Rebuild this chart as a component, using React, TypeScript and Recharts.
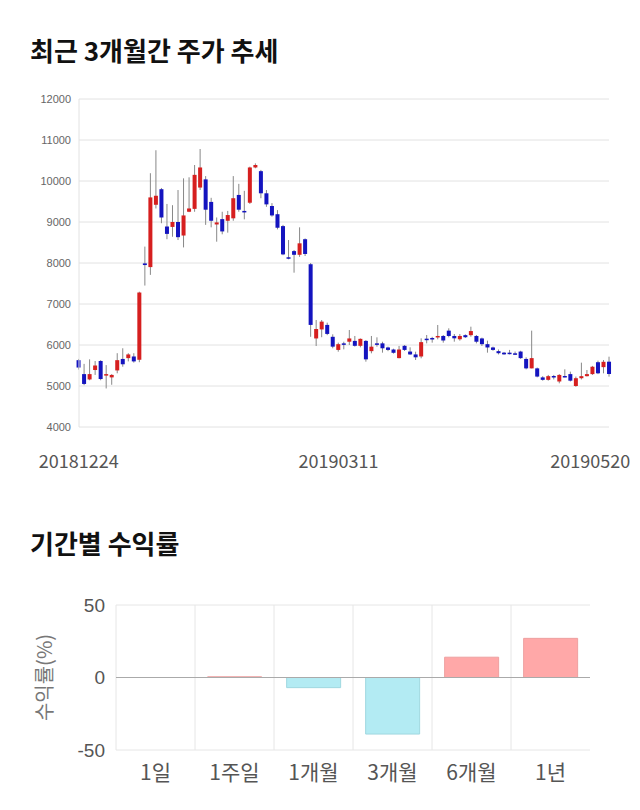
import React from 'react';
import {
  ComposedChart,
  BarChart,
  Bar,
  Cell,
  XAxis,
  YAxis,
  CartesianGrid,
  ReferenceLine,
} from 'recharts';

// candle values, one entry per trading day (20181224 ~ 20190520)
const opens = [
  5630, 5290, 5160, 5390, 5610, 5260, 5210, 5380, 5660, 5680,
  5720, 5640, 7990, 7900, 9420, 9800, 8890, 8880, 9000, 8670,
  9250, 9320, 9840, 10040, 9490, 8940, 9070, 9030, 9090, 9660,
  9270, 9470, 10330, 10240, 9700, 9390, 9190, 8900, 8140, 8290,
  8200, 8580, 7970, 6160, 6380, 6490, 6200, 5880, 6040, 6080,
  6100, 5980, 6100, 5850, 6040, 6040, 5940, 5890, 5680, 5980,
  5840, 5770, 5720, 6154, 6171, 6187, 6220, 6350, 6220, 6140,
  6240, 6240, 6220, 6160, 6020, 5940, 5850, 5813, 5813, 5797,
  5840, 5660, 5430, 5430, 5210, 5150, 5244, 5110, 5244, 5290,
  5000, 5190, 5240, 5290, 5580, 5460, 5593,
];
const highs = [
  5660, 5540, 5650, 5610, 5630, 5510, 5290, 5800, 5920, 5800,
  5800, 7300, 8400, 10190, 10750, 9830, 9440, 9410, 9780, 10065,
  10090, 10390, 10780, 10120, 9590, 9110, 9250, 9270, 10120, 9930,
  9760, 10350, 10430, 10270, 9780, 9460, 9290, 8930, 8560, 8317,
  8870, 8600, 8000, 6610, 6610, 6545, 6260, 6057, 6080, 6366,
  6220, 6160, 6120, 6220, 6187, 6080, 5960, 5910, 5976, 6000,
  5943, 5837, 6163, 6244, 6200, 6488, 6244, 6407, 6268, 6268,
  6260, 6447, 6244, 6180, 6106, 5960, 5890, 5830, 5880, 5840,
  5860, 5700, 6350, 5450, 5240, 5270, 5270, 5290, 5407, 5350,
  5230, 5569, 5390, 5490, 5618, 5634, 5715,
];
const lows = [
  5400, 5020, 5140, 5270, 5140, 4940, 5030, 5310, 5470, 5600,
  5570, 5580, 7450, 7710, 9330, 8970, 8580, 8640, 8560, 8380,
  9240, 9250, 9780, 8930, 8870, 8520, 8700, 8740, 9030, 9250,
  9065, 9440, 10310, 9580, 9370, 9130, 8820, 8190, 8090, 7764,
  8150, 8170, 6200, 5975, 6190, 6240, 5920, 5837, 5894, 6000,
  5960, 5943, 5593, 5797, 5959, 5813, 5850, 5790, 5675, 5854,
  5760, 5634, 5675, 6040, 6057, 6138, 6057, 6187, 6081, 6106,
  6170, 6203, 6040, 5976, 5813, 5860, 5770, 5760, 5770, 5760,
  5660, 5406, 5430, 5211, 5130, 5130, 5160, 5065, 5210, 5110,
  4980, 5160, 5230, 5270, 5290, 5309, 5228,
];
const closes = [
  5450, 5050, 5290, 5500, 5170, 5290, 5270, 5630, 5530, 5770,
  5600, 7280, 7950, 9600, 9640, 9110, 8710, 9000, 8630, 9160,
  9330, 10150, 10330, 9300, 9030, 8990, 8770, 9170, 9580, 9300,
  9240, 10330, 10390, 9700, 9430, 9160, 8860, 8210, 8120, 8200,
  8480, 8220, 6490, 6390, 6570, 6270, 5960, 6020, 6010, 6160,
  5980, 6150, 5650, 5960, 6016, 5920, 5880, 5810, 5890, 5880,
  5770, 5700, 6070, 6122, 6146, 6220, 6110, 6220, 6163, 6220,
  6190, 6340, 6080, 6020, 5940, 5880, 5800, 5772, 5790, 5772,
  5680, 5430, 5680, 5230, 5150, 5240, 5211, 5270, 5228, 5130,
  5190, 5240, 5290, 5470, 5310, 5590, 5293,
];
const priceTicks = [4000, 5000, 6000, 7000, 8000, 9000, 10000, 11000, 12000];
const dateTickIndex = [0, 47, 96];
const dateTickLabels = ['20181224', '20190311', '20190520'];

const periods = ['1일', '1주일', '1개월', '3개월', '6개월', '1년'];
const returns = [0, 0.5, -7, -39, 14, 27];
const returnTicks = [-50, 0, 50];

const UP = '#d61f1f';
const DOWN = '#1414bf';

const candleData = opens.map((o, i) => ({
  i,
  open: o,
  high: highs[i],
  low: lows[i],
  close: closes[i],
  range: [lows[i], highs[i]],
}));

const returnData = periods.map((p, i) => ({ name: p, value: returns[i] }));

const Candle = (props: any) => {
  const { x, y, width, height, payload } = props;
  const { open, close, high, low } = payload;
  const cx = x + width / 2;
  const top = Math.min(y, y + height);
  const h = Math.abs(height);
  const k = high === low ? 0 : h / (high - low);
  const yOf = (v: number) => top + (high - v) * k;
  const up = close >= open;
  const bodyTop = yOf(Math.max(open, close));
  const bodyH = Math.max(1.5, Math.abs(open - close) * k);
  return (
    <g>
      <line x1={cx} x2={cx} y1={top} y2={top + h} stroke="#888" strokeWidth={1} />
      <rect x={cx - 2} y={bodyTop} width={4} height={bodyH} fill={up ? UP : DOWN} />
    </g>
  );
};

const DateTick = (props: any) => {
  const { x, y, payload } = props;
  const pos = dateTickIndex.indexOf(payload.value);
  const last = pos === dateTickIndex.length - 1;
  return (
    <text
      x={last ? x + 21 : x}
      y={y}
      dy="0.71em"
      textAnchor={last ? 'end' : 'middle'}
      fill="#555"
      fontSize={18}
      fontFamily="'Noto Sans CJK KR', 'Noto Sans', sans-serif"
    >
      {dateTickLabels[pos]}
    </text>
  );
};

// vertical grid lines on the category boundaries (no line on the right edge)
const bandEdges = ({ offset }: any) =>
  Array.from({ length: periods.length }, (_, k) => offset.left + (k * offset.width) / periods.length);

const titleStyle: React.CSSProperties = {
  position: 'absolute',
  left: 30,
  fontSize: 26,
  lineHeight: '26px',
  fontWeight: 700,
  color: '#111',
  fontFamily: "'Noto Sans CJK KR', sans-serif",
  margin: 0,
};

export default function App() {
  return (
    <div style={{ position: 'absolute', left: 0, top: 0, width: 640, height: 810, background: '#fff' }}>
      <div style={{ position: 'absolute', left: 0, top: 0 }}>
        <ComposedChart
          width={640}
          height={480}
          data={candleData}
          margin={{ top: 99, right: 31, left: 0, bottom: 13 }}
        >
          <CartesianGrid vertical={false} stroke="#e2e2e2" />
          <XAxis
            dataKey="i"
            ticks={dateTickIndex}
            interval={0}
            tick={<DateTick />}
            tickLine={false}
            axisLine={false}
            tickMargin={22}
            height={40}
            padding={{ left: -3, right: -3 }}
          />
          <YAxis
            domain={[4000, 12000]}
            ticks={priceTicks}
            width={79}
            tickLine={false}
            axisLine={{ stroke: '#e2e2e2' }}
            tick={{ fill: '#666', fontSize: 11, fontFamily: "'Liberation Sans', Arial, sans-serif" }}
          />
          <Bar dataKey="range" shape={<Candle />} isAnimationActive={false} />
        </ComposedChart>
      </div>
      <div style={{ ...titleStyle, top: 37 }}>최근 3개월간 주가 추세</div>
      <div style={{ ...titleStyle, top: 530 }}>기간별 수익률</div>
      <div style={{ position: 'absolute', left: 0, top: 580 }}>
        <BarChart
          width={640}
          height={220}
          data={returnData}
          margin={{ top: 25, right: 50, left: 0, bottom: 10 }}
          barCategoryGap="16%"
        >
          <CartesianGrid stroke="#e6e6e6" verticalCoordinatesGenerator={bandEdges} />
          <XAxis
            dataKey="name"
            tickLine={false}
            axisLine={false}
            tickMargin={9}
            height={40}
            tick={{ fill: '#555', fontSize: 21, fontFamily: "'Noto Sans CJK KR', sans-serif" }}
          />
          <YAxis
            domain={[-50, 50]}
            ticks={returnTicks}
            width={116}
            tickLine={false}
            axisLine={false}
            tickMargin={5}
            tick={{ fill: '#555', fontSize: 19, fontFamily: "'Liberation Sans', Arial, sans-serif" }}
            label={{
              value: '수익률(%)',
              angle: -90,
              position: 'center',
              dx: -13,
              fill: '#777',
              fontSize: 20,
              fontFamily: "'Noto Sans CJK KR', sans-serif",
            }}
          />
          <ReferenceLine y={0} stroke="#aaa" />
          <Bar dataKey="value" isAnimationActive={false}>
            {returnData.map((d, i) => (
              <Cell
                key={i}
                fill={d.value >= 0 ? '#ffa8a8' : '#b3ebf3'}
                stroke={d.value >= 0 ? '#eea0a0' : '#a0d8e0'}
              />
            ))}
          </Bar>
        </BarChart>
      </div>
    </div>
  );
}
